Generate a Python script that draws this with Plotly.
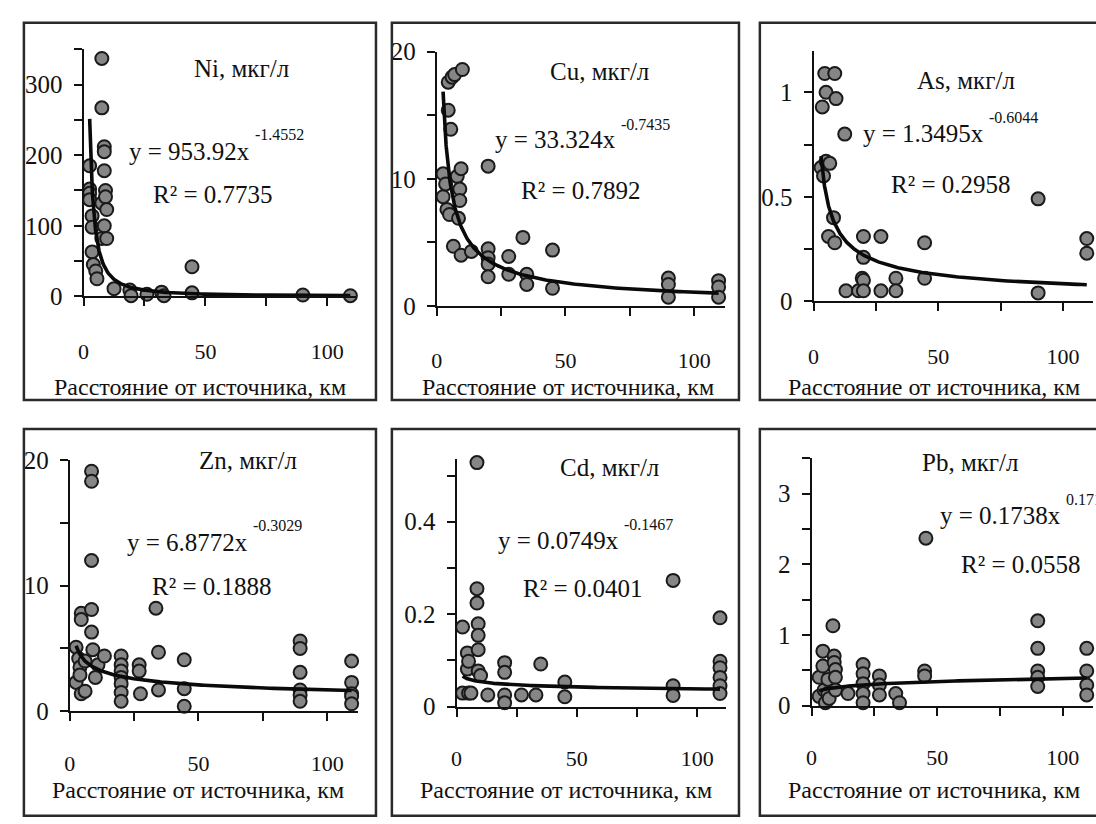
import numpy as np
import plotly.graph_objects as go

W, H = 1096, 824
FONT = "Liberation Serif"
INK = "#111111"

# ---------------- data ----------------
elements = ["Ni", "Cu", "As", "Zn", "Cd", "Pb"]
coef_a = [953.92, 33.324, 1.3495, 6.8772, 0.0749, 0.1738]
coef_b = [-1.4552, -0.7435, -0.6044, -0.3029, -0.1467, 0.1719]
eq_a_labels = ["953.92", "33.324", "1.3495", "6.8772", "0.0749", "0.1738"]
eq_b_labels = ["-1.4552", "-0.7435", "-0.6044", "-0.3029", "-0.1467", "0.1719"]
r2_labels = ["0.7735", "0.7892", "0.2958", "0.1888", "0.0401", "0.0558"]

ni_x = [2.5, 2.5, 2.5, 2.5, 3.5, 3.5, 3.5, 4, 5, 5.5, 7.5, 7.5, 7.5, 7.5, 8.5, 8.5, 8.5, 8.5,
        9, 9, 9.5, 9.5, 12.5, 19, 19.5, 26, 32, 33, 44.5, 44.5, 90, 109.5]
ni_y = [185, 152, 146, 137, 114, 98, 63, 45, 36, 25, 337, 267, 132, 82, 212, 205, 178, 100,
        150, 141, 123, 82, 11, 9, 1, 3, 6, 1, 42, 5, 2, 1]

cu_x = [2.5, 2.5, 3.5, 4, 4.5, 4.5, 5, 5.5, 6, 6.5, 7, 8, 8.5, 9, 9, 9.5, 9.5, 10, 13.5,
        20, 20, 20, 20, 20, 28, 28, 33.5, 35, 35, 45, 45, 90, 90, 90, 109.5, 109.5, 109.5]
cu_y = [10.4, 8.6, 9.6, 7.6, 17.6, 15.4, 7.2, 13.9, 18.0, 4.7, 18.2, 10.2, 6.9, 9.2, 8.3, 10.8, 4.0, 18.6, 4.3,
        11.0, 4.5, 3.8, 3.3, 2.3, 3.9, 2.5, 5.4, 2.5, 1.7, 4.4, 1.4, 2.2, 1.7, 0.7, 2.0, 1.5, 0.7]

as_x = [3, 4, 4.5, 5, 5, 6.5, 3.5, 6, 8.5, 8, 8.5, 9, 12.5, 13, 18, 19.5, 20, 20, 20, 20,
        27, 27, 33, 33, 44.5, 44.5, 90, 90, 109.5, 109.5]
as_y = [0.64, 0.60, 1.09, 1.00, 0.67, 0.66, 0.93, 0.31, 1.09, 0.40, 0.28, 0.97, 0.80, 0.05, 0.05, 0.11, 0.10, 0.31, 0.21, 0.05,
        0.31, 0.05, 0.11, 0.05, 0.28, 0.11, 0.49, 0.04, 0.30, 0.23]

zn_x = [2.5, 2.5, 4.5, 4.5, 3.5, 4, 4, 4.5, 6, 6, 8.5, 8.5, 8.5, 8.5, 8.5, 9, 10, 11, 13.5,
        20, 20, 20, 20, 20, 20, 20, 27, 27, 27.5, 33.5, 34.5, 34.5, 44.5, 44.5, 44.5,
        89.5, 89.5, 89.5, 89.5, 89.5, 89.5, 109.5, 109.5, 109.5, 109.5, 109.5]
zn_y = [5.1, 2.3, 7.8, 7.3, 4.2, 3.5, 2.9, 1.4, 4.0, 1.6, 19.1, 18.3, 12.0, 8.1, 6.3, 4.9, 2.7, 3.7, 4.4,
        4.4, 3.7, 3.2, 2.7, 2.2, 1.5, 0.8, 3.7, 3.2, 1.4, 8.2, 4.7, 1.7, 4.1, 1.8, 0.4,
        5.6, 5.0, 3.1, 1.7, 1.3, 0.8, 4.0, 2.3, 1.4, 1.2, 0.6]

cd_x = [2.5, 2.5, 4.5, 4.5, 5, 5, 6, 8.5, 8.5, 8.5, 9, 9, 9, 9, 10, 13, 20, 20, 20, 20, 27, 33, 35,
        45, 45, 90, 90, 90, 109.5, 109.5, 109.5, 109.5, 109.5, 109.5]
cd_y = [0.172, 0.029, 0.116, 0.081, 0.098, 0.029, 0.029, 0.528, 0.255, 0.224, 0.179, 0.154, 0.123, 0.077, 0.067,
        0.025, 0.095, 0.074, 0.025, 0.008, 0.025, 0.025, 0.092, 0.053, 0.021, 0.273, 0.045, 0.024,
        0.192, 0.098, 0.084, 0.063, 0.045, 0.028]

pb_x = [3, 3, 4.5, 4.5, 5, 5.5, 6.5, 6.5, 7, 8.5, 9, 9, 9.5, 9.5, 9.5, 14.5, 20.5, 20.5, 20.5, 20.5, 20.5,
        27, 27, 27, 33.5, 35, 45, 45, 45.5, 90, 90, 90, 90, 90, 109.5, 109.5, 109.5, 109.5]
pb_y = [0.40, 0.13, 0.77, 0.56, 0.22, 0.04, 0.37, 0.17, 0.10, 1.13, 0.70, 0.61, 0.51, 0.40, 0.22, 0.17,
        0.58, 0.45, 0.31, 0.17, 0.04, 0.42, 0.29, 0.15, 0.17, 0.04, 0.49, 0.42, 2.37,
        1.20, 0.81, 0.49, 0.40, 0.27, 0.81, 0.49, 0.29, 0.15]

xs = [ni_x, cu_x, as_x, zn_x, cd_x, pb_x]
ys = [ni_y, cu_y, as_y, zn_y, cd_y, pb_y]

y_max = [350, 20, 1.2, 20, 0.535, 3.5]
y_dtick = [100, 10, 0.5, 10, 0.2, 1]
y_minor = [50, 5, 0.25, 5, 0.1, 0.5]
x_max = 112
x_label = "Расстояние от источника, км"

# ---------------- layout geometry (pixels) ----------------
plot_px = [(78, 352.4, 293, 37.5), (433, 723, 303, 40), (812, 1093, 298, 38.8),
           (64, 354, 722, 462), (453, 724, 717, 461.5), (810, 1093, 716, 460.5)]
box_px = [(18, 372, 10, 400), (388, 737, 10, 400), (758, 1102, 10, 400),
          (18, 372, 430, 830), (388, 737, 430, 830), (758, 1102, 430, 830)]
title_px = [(237, 57), (597, 60), (965, 70), (243, 463), (607, 470), (970, 465)]
# end of the "y = a·x" part, its vertical centre, and exponent centre
eq_end_px = [(247, 143, 126), (615, 131, 115), (985, 125, 108),
             (245, 547, 530), (618, 545, 529), (1063, 520, 503)]
r2_px = [(208, 188), (578, 183), (950, 177), (207, 593), (580, 595), (1021, 570)]
xt_px = [(195, 387), (565, 387), (933, 387), (193, 803), (563, 803), (933, 803)]
x_standoff = [26, 26, 26, 23, 23, 23]


def px_x(v):
    return v / W


def px_y(v):
    return 1 - v / H


fig = go.Figure()
layout = dict(
    width=W, height=H, margin=dict(l=0, r=0, t=0, b=0),
    paper_bgcolor="white", plot_bgcolor="rgba(0,0,0,0)", showlegend=False,
    font=dict(family=FONT, color=INK),
)

annotations = []
shapes = []


def ann(text, x, y, size, xanchor="center", yanchor="middle"):
    annotations.append(dict(text=text, x=px_x(x), y=px_y(y), xref="paper", yref="paper",
                            showarrow=False, xanchor=xanchor, yanchor=yanchor,
                            font=dict(family=FONT, size=size, color=INK)))


for i in range(6):
    n = "" if i == 0 else str(i + 1)
    xa, ya = "x" + n, "y" + n
    x0, x1, yb, yt = plot_px[i]

    fig.add_trace(go.Scatter(
        x=xs[i], y=ys[i], mode="markers", xaxis=xa, yaxis=ya, cliponaxis=False,
        marker=dict(size=13, color="#868686", line=dict(color="#1a1a1a", width=2)),
        hoverinfo="skip"))

    tx = np.geomspace(min(xs[i]), max(xs[i]), 200)
    fig.add_trace(go.Scatter(
        x=tx, y=coef_a[i] * tx ** coef_b[i], mode="lines", xaxis=xa, yaxis=ya,
        cliponaxis=False, line=dict(color="#0a0a0a", width=3.6), hoverinfo="skip"))

    common = dict(showline=True, linecolor=INK, linewidth=2, ticks="outside", ticklen=8,
                  tickwidth=2, tickcolor=INK, showgrid=False, zeroline=False, fixedrange=True)
    layout["xaxis" + n] = dict(
        domain=[px_x(x0), px_x(x1)], anchor=ya, range=[0, x_max], dtick=50, tick0=0,
        minor=dict(dtick=25, ticks="outside", ticklen=8, tickwidth=2, tickcolor=INK, showgrid=False),
        tickfont=dict(family=FONT, size=22, color=INK), ticklabelstandoff=x_standoff[i], **common)
    layout["yaxis" + n] = dict(
        domain=[px_y(yb), px_y(yt)], anchor=xa, range=[0, y_max[i]], dtick=y_dtick[i], tick0=0,
        minor=dict(dtick=y_minor[i], ticks="outside", ticklen=8, tickwidth=2, tickcolor=INK, showgrid=False),
        tickfont=dict(family=FONT, size=25, color=INK), ticklabelstandoff=6, **common)

    bx0, bx1, by0, by1 = box_px[i]
    shapes.append(dict(type="rect", xref="paper", yref="paper",
                       x0=px_x(bx0), x1=px_x(bx1), y0=px_y(by1), y1=px_y(by0),
                       line=dict(color="#2a2a2a", width=2.5), layer="above"))

    ann(f"{elements[i]}, мкг/л", title_px[i][0], title_px[i][1], 25)
    ex, ey, esy = eq_end_px[i]
    ann(f"y = {eq_a_labels[i]}x", ex, ey, 25, xanchor="right")
    ann(eq_b_labels[i], ex + 1, esy, 16, xanchor="left")
    ann(f"R² = {r2_labels[i]}", r2_px[i][0], r2_px[i][1], 25)
    ann(x_label, xt_px[i][0], xt_px[i][1], 24)

layout["annotations"] = annotations
layout["shapes"] = shapes
fig.update_layout(**layout)
fig.write_html("out.html",
               post_script="document.body.style.margin='0';document.body.style.overflow='hidden';")
